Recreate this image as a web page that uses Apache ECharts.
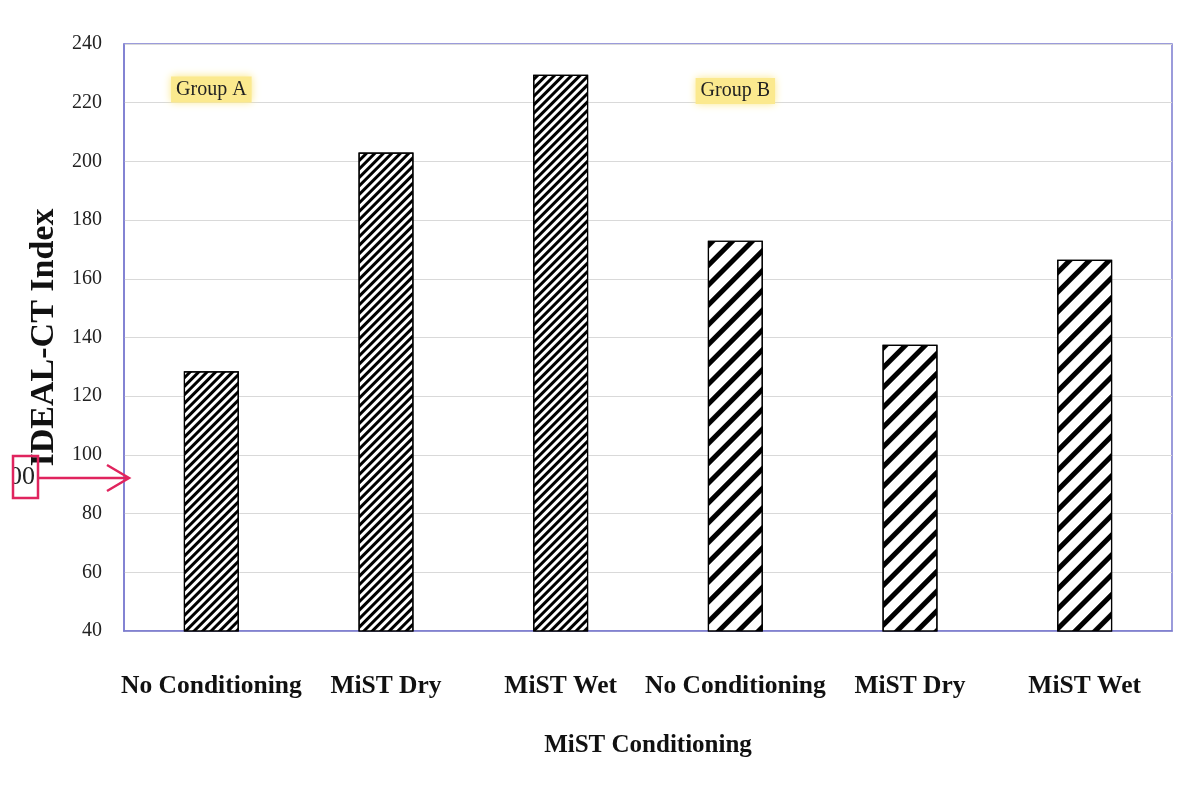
<!DOCTYPE html>
<html>
<head>
<meta charset="utf-8">
<script src="https://cdn.jsdelivr.net/npm/echarts@6/dist/echarts.min.js"></script>
<style>html,body{margin:0;padding:0;background:#fff;}#c{width:1189px;height:788px;}</style>
</head>
<body>
<div id="c"></div>
<script>
const categories = ['No Conditioning', 'MiST Dry', 'MiST Wet', 'No Conditioning', 'MiST Dry', 'MiST Wet'];
const values = [128.5, 203, 229.5, 173, 137.5, 166.5];
const groups = ['A', 'A', 'A', 'B', 'B', 'B'];
const groupLabels = ['Group A', 'Group B'];
const groupLabelPos = [[0, 224.5], [3, 224]];
const yTicks = [40, 60, 80, 100, 120, 140, 160, 180, 200, 220, 240];

const serif = '"Liberation Serif", "Times New Roman", serif';
const decals = {
  A: { color: '#000', dashArrayX: [1, 0], dashArrayY: [3, 3], rotation: -Math.PI / 4, symbolSize: 1 },
  B: { color: '#000', dashArrayX: [1, 0], dashArrayY: [5, 9], rotation: -Math.PI / 4, symbolSize: 1 }
};

const chart = echarts.init(document.getElementById('c'), null, { renderer: 'canvas' });
chart.setOption({
  animation: false,
  backgroundColor: '#fff',
  grid: { left: 124, right: 17, top: 44, bottom: 157, show: true, borderColor: '#7b7bd0', borderWidth: 1.5, backgroundColor: 'transparent' },
  xAxis: {
    type: 'category',
    data: categories,
    name: 'MiST Conditioning',
    nameLocation: 'middle',
    nameGap: 102,
    nameTextStyle: { fontFamily: serif, fontWeight: 'bold', fontSize: 25, color: '#111' },
    axisLine: { show: true, lineStyle: { color: '#7b7bd0', width: 1.5 } },
    axisTick: { show: false },
    axisLabel: { interval: 0, margin: 42, fontFamily: serif, fontWeight: 'bold', fontSize: 25.5, color: '#111' }
  },
  yAxis: {
    type: 'value',
    min: yTicks[0],
    max: yTicks[yTicks.length - 1],
    interval: 20,
    name: 'IDEAL-CT Index',
    nameLocation: 'middle',
    nameGap: 55,
    nameTextStyle: { fontFamily: serif, fontWeight: 'bold', fontSize: 34, color: '#111' },
    axisLine: { show: true, lineStyle: { color: '#7b7bd0', width: 1.5 } },
    axisTick: { show: false },
    axisLabel: { margin: 22, fontFamily: serif, fontSize: 20, color: '#222' },
    splitLine: { show: true, lineStyle: { color: '#d9d9d9', width: 1 } }
  },
  series: [{
    type: 'bar',
    barWidth: 55,
    data: values.map((v, i) => ({
      value: v,
      itemStyle: { color: '#fff', borderColor: '#000', borderWidth: 1.2, decal: decals[groups[i]] }
    })),
    markPoint: {
      symbol: 'rect',
      symbolSize: 0,
      silent: true,
      label: {
        show: true,
        position: 'inside',
        fontFamily: serif,
        fontSize: 20,
        color: '#222',
        backgroundColor: '#fbe98e',
        padding: [3, 5],
        shadowColor: '#fbe98e',
        shadowBlur: 8,
        formatter: p => p.name
      },
      data: groupLabels.map((g, i) => ({ name: g, coord: groupLabelPos[i] }))
    }
  }],
  graphic: [
    { type: 'rect', shape: { x: 13, y: 456, width: 25, height: 42 }, style: { fill: 'none', stroke: '#e0245e', lineWidth: 2.5 }, z: 10 },
    { type: 'text', style: { x: 35, y: 477, text: '00', font: '26px "Liberation Serif", serif', fill: '#222', textAlign: 'right', textVerticalAlign: 'middle' }, clipPath: { type: 'rect', shape: { x: 14, y: 456, width: 24, height: 42 } }, z: 9 },
    { type: 'line', shape: { x1: 38, y1: 478, x2: 128, y2: 478 }, style: { stroke: '#e0245e', lineWidth: 2.5 }, z: 10 },
    { type: 'polyline', shape: { points: [[107, 465], [129, 478], [107, 491]] }, style: { stroke: '#e0245e', lineWidth: 2.5, fill: 'none' }, z: 10 }
  ]
});
</script>
</body>
</html>
